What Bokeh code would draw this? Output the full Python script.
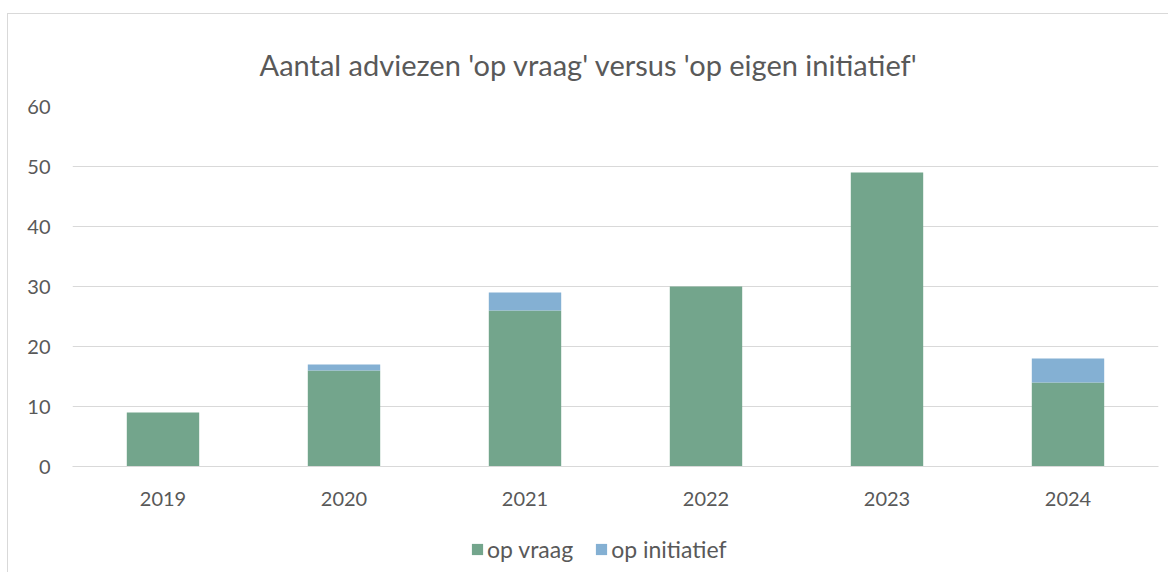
from bokeh.plotting import figure
from bokeh.layouts import column
from bokeh.models import ColumnDataSource, Legend, LegendItem, Title, FixedTicker, Range1d
from bokeh.embed import file_html
from bokeh.resources import INLINE

years = ["2019", "2020", "2021", "2022", "2023", "2024"]
op_vraag = [9, 16, 26, 30, 49, 14]
op_initiatief = [0, 1, 3, 0, 0, 4]
series = ["op vraag", "op initiatief"]
colors = ["#73A58C", "#84B0D3"]
y_ticks = [0, 10, 20, 30, 40, 50, 60]

FONT = "Lato"
TXT = "#595959"
GRID = "#D9D9D9"

src = ColumnDataSource(dict(years=years, vraag=op_vraag, initiatief=op_initiatief))

# main chart
p = figure(x_range=years, y_range=(0, 60), width=1160, height=512,
           output_backend="svg", toolbar_location=None,
           min_border_left=64, min_border_right=10, min_border_top=92, min_border_bottom=60)
p.outline_line_color = None

r = p.vbar_stack(["vraag", "initiatief"], x="years", width=0.4, color=colors, source=src, line_color=None)

t = Title(text="Aantal adviezen 'op vraag' versus 'op eigen initiatief'", align="left",
          text_font=FONT, text_font_size="29px", text_font_style="normal",
          text_color=TXT, offset=187, standoff=49)
p.add_layout(t, "above")

p.yaxis.ticker = FixedTicker(ticks=y_ticks)
p.yaxis.axis_line_color = None
p.yaxis.major_tick_line_color = None
p.yaxis.major_tick_out = 0
p.yaxis.minor_tick_line_color = None
p.yaxis.major_label_text_font = FONT
p.yaxis.major_label_text_font_size = "20px"
p.yaxis.major_label_text_color = TXT
p.yaxis.major_label_standoff = 22

p.xaxis.axis_line_color = GRID
p.xaxis.major_tick_line_color = None
p.xaxis.major_tick_out = 0
p.xaxis.major_label_text_font = FONT
p.xaxis.major_label_text_font_size = "20px"
p.xaxis.major_label_text_color = TXT
p.xaxis.major_label_standoff = 25

p.xgrid.grid_line_color = None
p.ygrid.grid_line_color = GRID
p.ygrid.grid_line_width = 1

# legend strip below the chart (its swatches come from the same series)
lg = figure(x_range=years, y_range=Range1d(1000, 1001), width=1160, height=46,
            output_backend="svg", toolbar_location=None,
            x_axis_type=None, y_axis_type=None,
            min_border_left=0, min_border_right=0, min_border_top=0, min_border_bottom=0)
lg.outline_line_color = None
lg.grid.grid_line_color = None
lr = lg.vbar_stack(["vraag", "initiatief"], x="years", width=0.4, color=colors, source=src, line_color=None)

legend = Legend(items=[LegendItem(label=s, renderers=[rr]) for s, rr in zip(series, lr)],
                orientation="horizontal", location=(398, 9),
                label_text_font=FONT, label_text_font_size="23px", label_text_color=TXT,
                glyph_width=14, glyph_height=14, spacing=21, label_standoff=3,
                label_height=20, border_line_color=None, background_fill_alpha=0,
                margin=0, padding=0)
lg.add_layout(legend, "center")

layout = column(p, lg, spacing=0)
layout.styles = {"margin-left": "7px", "margin-top": "13px",
                 "border-left": "1px solid #D9D9D9", "border-top": "1px solid #D9D9D9"}

open("out.html", "w").write(file_html(layout, INLINE))
